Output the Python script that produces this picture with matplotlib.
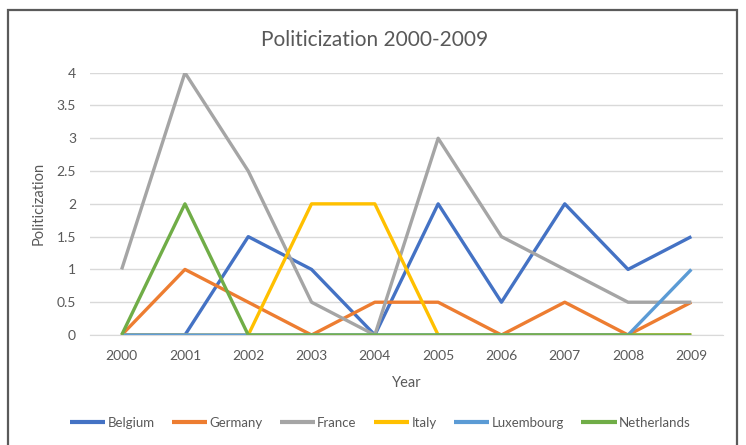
import numpy as np
import matplotlib.pyplot as plt
from matplotlib.patches import Rectangle

plt.rcParams['font.family'] = ['Lato', 'DejaVu Sans']

years = ['2000', '2001', '2002', '2003', '2004', '2005', '2006', '2007', '2008', '2009']
countries = ['Belgium', 'Germany', 'France', 'Italy', 'Luxembourg', 'Netherlands']
belgium = [0, 0, 1.5, 1, 0, 2, 0.5, 2, 1, 1.5]
germany = [0, 1, 0.5, 0, 0.5, 0.5, 0, 0.5, 0, 0.5]
france = [1, 4, 2.5, 0.5, 0, 3, 1.5, 1, 0.5, 0.5]
italy = [0, 0, 0, 2, 2, 0, 0, 0, 0, 0]
luxembourg = [0, 0, 0, 0, 0, 0, 0, 0, 0, 1]
netherlands = [0, 2, 0, 0, 0, 0, 0, 0, 0, 0]
colors = ['#4472C4', '#ED7D31', '#A5A5A5', '#FFC000', '#5B9BD5', '#70AD47']

W, H = 746, 445
fig = plt.figure(figsize=(W / 100, H / 100), dpi=100)
ax = fig.add_axes([90 / W, 1 - 335 / H, (723 - 90) / W, (335 - 72.7) / H])

x = np.arange(len(years))
for name, vals, c in zip(countries,
                         [belgium, germany, france, italy, luxembourg, netherlands],
                         colors):
    ax.plot(x, vals, color=c, lw=2.4, label=name, solid_capstyle='butt')

ax.set_xlim(-0.5, len(years) - 0.5)
ax.set_ylim(0, 4)
ax.set_xticks(x)
ax.set_xticklabels(years)
ax.set_yticks(np.arange(0, 4.01, 0.5))
ax.set_yticklabels(['0', '0.5', '1', '1.5', '2', '2.5', '3', '3.5', '4'])
ax.yaxis.grid(True, color='#D9D9D9', lw=1)
ax.set_axisbelow(True)
for s in ['top', 'right', 'left']:
    ax.spines[s].set_visible(False)
ax.spines['bottom'].set_color('#D9D9D9')
ax.tick_params(length=0, labelsize=10, colors='#595959', pad=10)
ax.tick_params(axis='x', pad=11)

ax.set_xlabel('Year', fontsize=10.5, color='#595959', labelpad=10)
ax.set_ylabel('Politicization', fontsize=10.5, color='#595959', labelpad=8)

fig.text(375 / W, 1 - 40 / H, 'Politicization 2000-2009', ha='center', va='center',
         fontsize=15, color='#595959')

leg = fig.legend(loc='center', bbox_to_anchor=(380 / W, 1 - 423 / H), ncol=6,
                 frameon=False, fontsize=9.5, handlelength=2.7, columnspacing=1.3,
                 handletextpad=0.15)
for t in leg.get_texts():
    t.set_color('#595959')
for line in leg.get_lines():
    line.set_linewidth(3)

# chart border
fig.patches.append(Rectangle((8 / W, -0.05), (737 - 8) / W, 1.05 - 10 / H,
                             transform=fig.transFigure, fill=False,
                             edgecolor='#5A5A5A', lw=1.6))

fig.savefig('out.png', dpi=100)
